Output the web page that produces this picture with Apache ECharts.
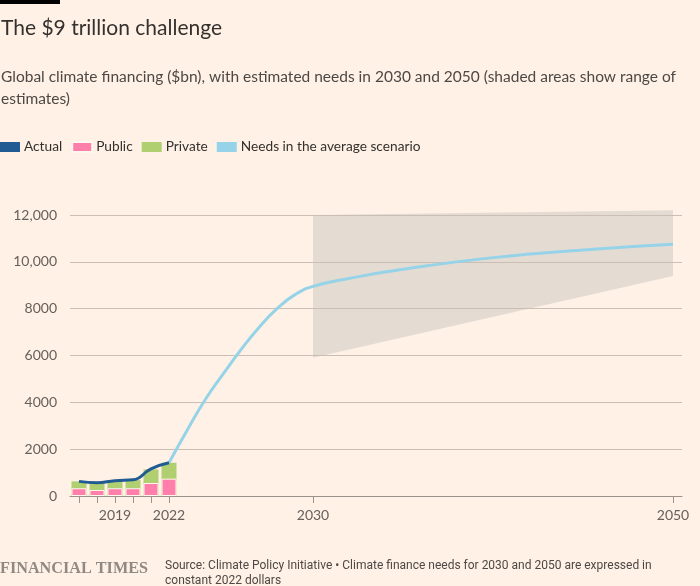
<!DOCTYPE html>
<html><head><meta charset="utf-8">
<script src="https://cdn.jsdelivr.net/npm/echarts@6/dist/echarts.min.js"></script>
<style>html,body{margin:0;padding:0;background:#fff1e5;}#c{width:700px;height:586px;}</style>
</head><body><div id="c"></div>
<script>
const barYears = [2017, 2018, 2019, 2020, 2021, 2022];
const publicVals = [330, 255, 330, 330, 555, 740];
const privateVals = [295, 315, 325, 350, 580, 680];
const actualVals = [625, 565, 655, 690, 1160, 1420];
const needsYears = [2022, 2023, 2024, 2025, 2026, 2027, 2028, 2029, 2030, 2032, 2035, 2040, 2045, 2050];
const needsVals = [1420, 2800, 4100, 5200, 6250, 7200, 8000, 8600, 8950, 9290, 9680, 10180, 10510, 10750];
const bandYears = [2030, 2050];
const bandLow = [5900, 9400];
const bandHigh = [12000, 12200];
const xTickYears = [2017, 2018, 2019, 2020, 2021, 2022, 2030, 2050];
const xLabelYears = [2019, 2022, 2030, 2050];

const FONT = 'Lato';
const pair = (xs, ys) => xs.map((x, i) => [x, ys[i]]);
const totals = publicVals.map((p, i) => p + privateVals[i]);
const bandData = bandYears.map((y, i) => [y, bandLow[i], bandHigh[i]]);

const chart = echarts.init(document.getElementById('c'), null, {renderer: 'canvas'});
chart.setOption({
  backgroundColor: '#fff1e5',
  animation: false,
  textStyle: {fontFamily: FONT},
  graphic: [
    {type: 'rect', left: 0, top: 0, shape: {width: 60, height: 4}, style: {fill: '#000'}},
    {type: 'text', left: 1, top: 18, style: {text: 'The $9 trillion challenge', fontFamily: FONT, fontSize: 21, fill: '#33302e'}},
    {type: 'text', left: 1, top: 66, style: {text: 'Global climate financing ($bn), with estimated needs in 2030 and 2050 (shaded areas show range of\nestimates)', fontFamily: FONT, fontSize: 15.5, lineHeight: 22, fill: '#4d4845'}},
    {type: 'text', left: 0, top: 561, style: {text: 'FINANCIAL TIMES', fontFamily: 'Liberation Serif', fontWeight: 'bold', fontSize: 16.2, fill: '#8f8883'}},
    {type: 'text', left: 165, top: 558, style: {text: 'Source: Climate Policy Initiative \u2022 Climate finance needs for 2030 and 2050 are expressed in\nconstant 2022 dollars', fontFamily: 'Roboto', fontSize: 12, lineHeight: 15, fill: '#4d4845'}}
  ],
  legend: {
    left: 0, top: 140, padding: 0, itemWidth: 20, itemHeight: 10, itemGap: 9, icon: 'rect',
    textStyle: {fontFamily: FONT, fontSize: 13.7, color: '#33302e', padding: [0, 0, 0, -1]},
    data: ['Actual', 'Public', 'Private', 'Needs in the average scenario']
  },
  grid: {left: 70, right: 18, top: 215, bottom: 90, containLabel: false},
  xAxis: {
    type: 'value', min: 2016.5, max: 2050.5,
    axisLine: {show: true, lineStyle: {color: '#9b928b', width: 1}},
    axisTick: {show: true, length: 7, customValues: xTickYears, lineStyle: {color: '#9b928b'}},
    axisLabel: {customValues: xLabelYears, formatter: v => String(v), fontFamily: FONT, fontSize: 14, color: '#66605c', margin: 12},
    splitLine: {show: false}
  },
  yAxis: {
    type: 'value', min: 0, max: 12000, interval: 2000,
    axisLine: {show: false}, axisTick: {show: false},
    axisLabel: {fontFamily: FONT, fontSize: 14, color: '#66605c', margin: 13,
      formatter: v => v >= 10000 ? v.toLocaleString('en-US') : String(v)},
    splitLine: {lineStyle: {color: '#cbbfb5', width: 1}}
  },
  series: [
    {name: 'Range', type: 'custom', data: bandData, encode: {x: 0, y: [1, 2]}, clip: false, silent: true, z: -1,
      renderItem: function (params, api) {
        if (params.dataIndex !== 0) return null;
        const top = bandData.map(d => api.coord([d[0], d[2]]));
        const bot = bandData.slice().reverse().map(d => api.coord([d[0], d[1]]));
        return {type: 'polygon', shape: {points: top.concat(bot)}, style: {fill: '#e4dcd3'}};
      }
    },
    {name: 'Private', type: 'bar', barWidth: 15, barGap: '-100%', data: pair(barYears, totals), itemStyle: {color: '#b0cf70'}, z: 2},
    {name: 'Public', type: 'bar', barWidth: 15, barGap: '-100%', data: pair(barYears, publicVals), itemStyle: {color: '#ff7fab', borderColor: '#fff6ee', borderWidth: 1}, z: 2},
    {name: 'Needs in the average scenario', type: 'line', smooth: 0.5, data: pair(needsYears, needsVals), symbol: 'none', lineStyle: {color: '#96d3e8', width: 3}, itemStyle: {color: '#96d3e8'}, z: 3},
    {name: 'Actual', type: 'line', smooth: 0.5, data: pair(barYears, actualVals), symbol: 'none', lineStyle: {color: '#205b93', width: 3}, itemStyle: {color: '#205b93'}, z: 4}
  ]
});
</script></body></html>
